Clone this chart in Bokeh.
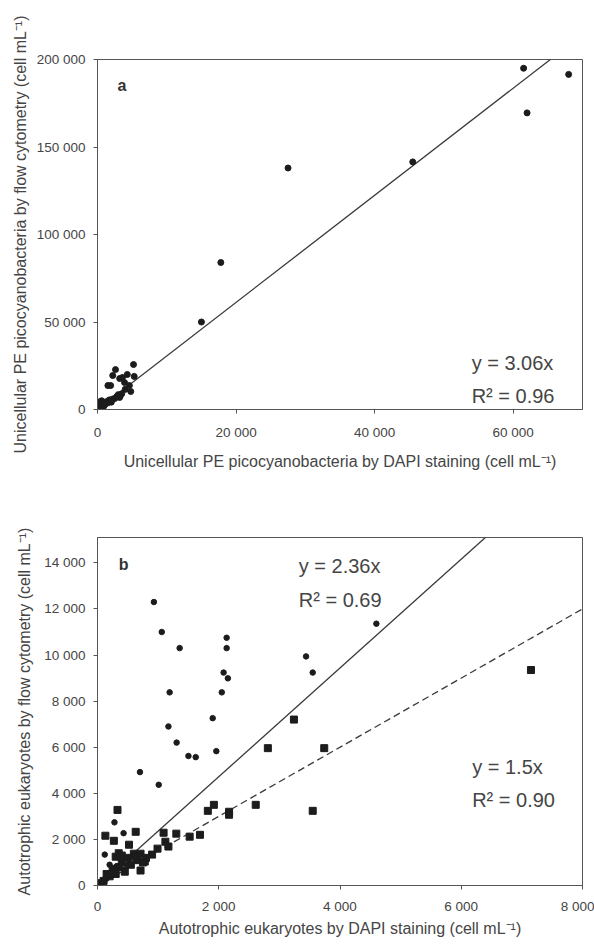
from bokeh.plotting import figure
from bokeh.layouts import column
from bokeh.models import Range1d, Label, FixedTicker
from bokeh.embed import file_html
from bokeh.resources import INLINE

# ---------------- data ----------------
# Panel a: unicellular PE picocyanobacteria (DAPI vs flow cytometry)
a_dapi = [61500, 68000, 62000, 45500, 27500, 17800, 15000,
          5200, 2600, 2200, 1900, 3200, 3600, 4300, 3900, 5300, 4600, 4800,
          3300, 3200, 2500, 1900, 1500,
          300, 500, 800, 200, 1000, 1200, 600, 100, 400, 700, 1500, 900, 1300,
          300, 2000, 2200, 1700, 2800, 3500, 4000, 3000, 600, 200, 0, 400,
          1100, 1800]
a_fcm = [195000, 191500, 169500, 141500, 138000, 84000, 50000,
         25700, 22800, 19400, 13700, 17700, 18300, 20000, 15400, 18900, 13700, 10300,
         8000, 6900, 6300, 5100, 13700,
         1000, 2000, 3000, 500, 2500, 4000, 1500, 300, 4500, 3500, 3800, 1800, 4500,
         2500, 4200, 6000, 5500, 7500, 9000, 11500, 8500, 5000, 3000, 0, 800,
         3200, 4800]
a_slope = 3.06
a_eq = ["y = 3.06x", "R\u00b2 = 0.96"]
a_xticks = [0, 20000, 40000, 60000]
a_xlabels = ["0", "20 000", "40 000", "60 000"]
a_yticks = [0, 50000, 100000, 150000, 200000]
a_ylabels = ["0", "50 000", "100 000", "150 000", "200 000"]

# Panel b: autotrophic eukaryotes (circles and squares)
b_circ_dapi = [930, 1060, 1355, 2130, 2130, 2080, 2150, 1190, 2050, 4600, 3440, 3550,
               1900, 1170, 1305, 1500, 1620, 1960, 700, 1010, 280, 430, 120,
               300, 400, 250, 500, 150, 350, 600, 200, 450, 0, 100]
b_circ_fcm = [12300, 11000, 10300, 10750, 10300, 9240, 8990, 8380, 8380, 11360, 9940, 9240,
              7260, 6900, 6200, 5620, 5570, 5830, 4920, 4370, 2740, 2270, 1340,
              800, 1100, 600, 900, 300, 1300, 1200, 900, 700, 0, 200]
b_sq_dapi = [7150, 3240, 2810, 3740, 3550, 2610, 2170, 2170, 1920, 1820, 1690, 1520,
             1300, 1090, 330, 130, 270, 630, 520, 710, 1120, 1170, 990, 900, 710, 780,
             600, 300, 350, 400, 250, 200, 450, 550, 100, 150, 350, 500, 650, 300, 800,
             750, 50, 400]
b_sq_fcm = [9350, 7200, 5960, 5960, 3240, 3500, 3200, 3070, 3500, 3240, 2200, 2120,
            2250, 2290, 3280, 2160, 1940, 2330, 1770, 650, 1900, 1690, 1600, 1340, 1380, 1040,
            1380, 1250, 1400, 1000, 700, 400, 600, 900, 200, 500, 800, 1200, 1100, 500, 1200,
            1000, 100, 1300]
b_slope_circ = 2.36
b_slope_sq = 1.5
b_eq_circ = ["y = 2.36x", "R\u00b2 = 0.69"]
b_eq_sq = ["y = 1.5x", "R\u00b2 = 0.90"]
b_xticks = [0, 2000, 4000, 6000, 8000]
b_xlabels = ["0", "2 000", "4 000", "6 000", "8 000"]
b_yticks = [0, 2000, 4000, 6000, 8000, 10000, 12000, 14000]
b_ylabels = ["0", "2 000", "4 000", "6 000", "8 000", "10 000", "12 000", "14 000"]

# ---------------- style ----------------
FONT = "Liberation Sans"
TXT = "#454545"
LINE = "#555555"
PT = "#1c1c1c"


def style(p, xt, xl, yt, yl, xlab, ylab, xls, xas, yas):
    p.outline_line_color = LINE
    p.outline_line_width = 1
    p.grid.visible = False
    for ax in (p.xaxis[0], p.yaxis[0]):
        ax.axis_line_color = LINE
        ax.major_tick_line_color = LINE
        ax.major_tick_out = 4
        ax.major_tick_in = 0
        ax.minor_tick_line_color = None
        ax.major_label_text_font = FONT
        ax.major_label_text_font_size = "13.5px"
        ax.major_label_text_color = TXT
        ax.axis_label_text_font = FONT
        ax.axis_label_text_font_size = "16px"
        ax.axis_label_text_font_style = "normal"
        ax.axis_label_text_color = TXT
    p.xaxis[0].ticker = FixedTicker(ticks=xt)
    p.xaxis[0].major_label_overrides = {t: s for t, s in zip(xt, xl)}
    p.yaxis[0].ticker = FixedTicker(ticks=yt)
    p.yaxis[0].major_label_overrides = {t: s for t, s in zip(yt, yl)}
    p.xaxis[0].axis_label = xlab
    p.yaxis[0].axis_label = ylab
    p.xaxis[0].major_label_standoff = xls
    p.xaxis[0].axis_label_standoff = xas
    p.yaxis[0].major_label_standoff = 8
    p.yaxis[0].axis_label_standoff = yas


# ---------------- panel a ----------------
pa = figure(width=594, height=489, output_backend="svg", toolbar_location=None,
            x_range=Range1d(0, 70000), y_range=Range1d(0, 200000),
            min_border_left=95, min_border_right=12, min_border_top=59, min_border_bottom=80)
style(pa, a_xticks, a_xlabels, a_yticks, a_ylabels,
      "Unicellular PE picocyanobacteria by DAPI staining (cell mL\u207b\u00b9)",
      "Unicellular PE picocyanobacteria by flow cytometry (cell mL\u207b\u00b9)", 11, 10, 5)
a_xend = 200000 / a_slope
pa.line([0, a_xend], [0, a_slope * a_xend], line_color="#3a3a3a", line_width=1.3)
pa.scatter(a_dapi, a_fcm, marker="circle", size=6, fill_color=PT, line_color=PT)
pa.add_layout(Label(x=2900, y=185000, text="a", text_font=FONT, text_font_size="16px",
                    text_font_style="bold", text_color="#333333", text_baseline="middle"))
pa.add_layout(Label(x=54000, y=26300, text=a_eq[0], text_font=FONT, text_font_size="20px",
                    text_color=TXT, text_baseline="middle"))
pa.add_layout(Label(x=54000, y=8000, text=a_eq[1], text_font=FONT, text_font_size="20px",
                    text_color=TXT, text_baseline="middle"))

# ---------------- panel b ----------------
pb = figure(width=594, height=450, output_backend="svg", toolbar_location=None,
            x_range=Range1d(0, 8000), y_range=Range1d(0, 15100),
            min_border_left=97, min_border_right=12, min_border_top=48, min_border_bottom=52)
style(pb, b_xticks, b_xlabels, b_yticks, b_ylabels,
      "Autotrophic eukaryotes by DAPI staining (cell mL\u207b\u00b9)",
      "Autotrophic eukaryotes by flow cytometry (cell mL\u207b\u00b9)", 9, 3, 8)
b_xend = 15100 / b_slope_circ
pb.line([0, b_xend], [0, b_slope_circ * b_xend], line_color="#3a3a3a", line_width=1.3)
pb.line([0, 8000], [0, b_slope_sq * 8000], line_color="#3a3a3a", line_width=1.3,
        line_dash="7 4")
pb.scatter(b_sq_dapi, b_sq_fcm, marker="square", size=7, fill_color=PT, line_color=PT)
pb.scatter(b_circ_dapi, b_circ_fcm, marker="circle", size=5.5, fill_color=PT, line_color=PT)
pb.add_layout(Label(x=350, y=13950, text="b", text_font=FONT, text_font_size="16px",
                    text_font_style="bold", text_color="#333333", text_baseline="middle"))
pb.add_layout(Label(x=3320, y=13870, text=b_eq_circ[0], text_font=FONT, text_font_size="20px",
                    text_color=TXT, text_baseline="middle"))
pb.add_layout(Label(x=3320, y=12400, text=b_eq_circ[1], text_font=FONT, text_font_size="20px",
                    text_color=TXT, text_baseline="middle"))
pb.add_layout(Label(x=6180, y=5140, text=b_eq_sq[0], text_font=FONT, text_font_size="20px",
                    text_color=TXT, text_baseline="middle"))
pb.add_layout(Label(x=6180, y=3715, text=b_eq_sq[1], text_font=FONT, text_font_size="20px",
                    text_color=TXT, text_baseline="middle"))

layout = column(pa, pb)
open("out.html", "w").write(file_html(layout, INLINE))
